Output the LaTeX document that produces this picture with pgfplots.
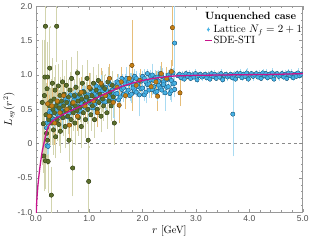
\documentclass[border=0pt]{standalone}
\usepackage{fontspec}
\usepackage{pgfplots}
\usepackage{pgfplotstable}
\pgfplotsset{compat=1.18}
\newfontfamily\tickfont{Liberation Sans}
\definecolor{gfill}{HTML}{5B6E2C}
\definecolor{gedge}{HTML}{3B4A1B}
\definecolor{gerr}{HTML}{D2D4AE}
\definecolor{ofill}{HTML}{C47F16}
\definecolor{oedge}{HTML}{7D5010}
\definecolor{oerr}{HTML}{E6BE7A}
\definecolor{bfill}{HTML}{48B2E4}
\definecolor{bedge}{HTML}{1F6F9F}
\definecolor{berr}{HTML}{A9DBF2}
\definecolor{sde}{HTML}{C8148C}
\definecolor{axgray}{HTML}{999999}

\pgfplotstableread{
x y e
0.12 0.60 0.90
0.14 0.29 0.70
0.15 -0.18 0.50
0.16 0.70 0.80
0.17 0.97 0.55
0.18 1.71 0.60
0.18 -0.25 0.40
0.19 0.42 0.45
0.20 0.15 0.40
0.21 0.80 0.50
0.22 0.97 0.50
0.22 0.05 0.35
0.23 -0.26 0.45
0.24 0.35 0.40
0.25 0.55 0.35
0.26 1.10 0.60
0.27 0.40 0.40
0.28 0.62 0.30
0.29 -0.75 0.40
0.30 0.30 0.30
0.31 0.88 0.35
0.32 0.50 0.30
0.33 0.20 0.35
0.34 0.65 0.30
0.35 0.45 0.25
0.36 0.78 0.35
0.37 0.10 0.30
0.38 0.55 0.25
0.39 1.71 0.50
0.40 0.35 0.30
0.41 0.60 0.25
0.42 0.84 0.30
0.43 0.28 0.30
0.44 0.52 0.25
0.45 0.70 0.25
0.46 0.18 0.30
0.47 0.45 0.25
0.48 0.62 0.25
0.50 0.90 0.30
0.51 0.38 0.25
0.52 0.55 0.20
0.53 0.72 0.25
0.55 0.25 0.30
0.56 0.48 0.25
0.57 0.85 0.35
0.58 0.60 0.22
0.60 0.40 0.25
0.61 0.68 0.25
0.62 0.05 0.30
0.63 0.52 0.20
0.64 0.78 0.25
0.66 0.35 0.30
0.67 0.95 0.30
0.68 0.58 0.22
0.69 -0.355 0.40
0.70 0.45 0.25
0.72 0.70 0.22
0.73 0.30 0.30
0.74 0.55 0.20
0.75 0.82 0.25
0.77 0.48 0.22
0.78 1.03 0.30
0.79 0.62 0.20
0.80 0.38 0.25
0.82 0.72 0.22
0.83 0.53 0.20
0.85 0.25 0.30
0.86 0.65 0.20
0.87 0.88 0.25
0.89 0.45 0.22
0.90 0.75 0.20
0.92 0.58 0.20
0.93 0.35 0.25
0.95 0.68 0.20
0.96 0.95 0.25
0.97 0.50 0.20
0.98 0.05 0.30
0.99 -0.55 0.50
1.00 0.62 0.20
1.02 0.80 0.22
1.03 0.42 0.22
1.05 0.70 0.20
1.06 0.55 0.20
1.08 0.88 0.22
1.10 0.35 0.25
1.11 0.65 0.20
1.13 0.78 0.20
1.15 0.50 0.20
1.17 0.92 0.22
1.18 0.60 0.20
1.20 0.72 0.20
1.22 0.40 0.22
1.24 0.85 0.20
1.25 0.65 0.18
1.27 0.55 0.20
1.29 0.80 0.20
1.31 0.70 0.18
1.33 0.45 0.22
1.35 0.90 0.20
1.37 0.62 0.18
1.39 0.75 0.18
1.41 0.55 0.20
1.43 0.85 0.20
1.45 0.68 0.18
1.47 0.30 0.30
}\greendata

\pgfplotstableread{
x y e
0.22 0.58 0.40
0.25 0.40 0.30
0.30 0.55 0.25
0.35 0.30 0.30
0.40 0.62 0.20
0.45 0.45 0.25
0.52 0.70 0.20
0.58 0.50 0.20
0.63 0.27 0.20
0.70 0.60 0.20
0.78 0.40 0.20
0.85 0.75 0.20
0.92 0.55 0.18
1.00 0.82 0.20
1.08 0.62 0.18
1.15 0.45 0.20
1.22 0.88 0.20
1.30 0.70 0.18
1.38 0.95 0.20
1.45 0.60 0.20
1.52 0.82 0.18
1.56 0.56 0.25
1.60 0.90 0.20
1.68 0.70 0.18
1.75 0.95 0.18
1.80 1.14 0.65
1.88 0.85 0.15
1.95 0.92 0.15
2.16 0.83 0.15
2.28 0.69 0.20
2.25 0.90 0.15
2.35 1.02 0.15
2.45 0.95 0.15
2.54 1.05 0.15
2.56 1.69 0.55
2.70 0.74 0.18
}\orangedata

\pgfplotstableread{
x y e
0.21 -0.03 0.12
0.23 -0.04 0.10
0.20 0.30 0.08
0.20 0.23 0.10
0.23 0.43 0.08
0.23 0.39 0.12
0.26 0.31 0.07
0.26 0.47 0.15
0.29 0.45 0.09
0.29 0.38 0.05
0.32 0.33 0.06
0.32 0.49 0.10
0.35 0.52 0.08
0.35 0.35 0.12
0.38 0.44 0.07
0.38 0.48 0.15
0.41 0.59 0.09
0.41 0.42 0.05
0.44 0.41 0.06
0.44 0.57 0.10
0.47 0.52 0.08
0.47 0.49 0.12
0.50 0.59 0.07
0.50 0.38 0.15
0.53 0.47 0.09
0.53 0.58 0.05
0.56 0.65 0.06
0.56 0.48 0.10
0.59 0.39 0.08
0.59 0.63 0.12
0.62 0.59 0.07
0.62 0.44 0.15
0.65 0.55 0.09
0.65 0.71 0.05
0.68 0.56 0.06
0.68 0.47 0.10
0.71 0.68 0.08
0.71 0.63 0.12
0.74 0.50 0.07
0.74 0.71 0.15
0.77 0.64 0.09
0.77 0.55 0.05
0.80 0.46 0.06
0.80 0.67 0.10
0.83 0.69 0.08
0.83 0.48 0.12
0.86 0.58 0.07
0.86 0.64 0.15
0.89 0.76 0.09
0.89 0.55 0.05
0.92 0.53 0.06
0.92 0.73 0.10
0.95 0.66 0.08
0.95 0.62 0.12
0.98 0.71 0.07
0.98 0.50 0.15
1.01 0.59 0.09
1.01 0.70 0.05
1.04 0.78 0.06
1.04 0.61 0.10
1.07 0.52 0.08
1.07 0.76 0.12
1.10 0.72 0.07
1.10 0.57 0.15
1.13 0.68 0.09
1.13 0.84 0.05
1.16 0.70 0.06
1.16 0.61 0.10
1.19 0.81 0.08
1.19 0.76 0.12
1.22 0.63 0.07
1.22 0.84 0.15
1.25 0.77 0.09
1.25 0.68 0.05
1.28 0.60 0.06
1.28 0.81 0.10
1.31 0.82 0.08
1.31 0.61 0.12
1.34 0.71 0.07
1.34 0.77 0.15
1.37 0.89 0.09
1.37 0.68 0.05
1.40 0.66 0.06
1.40 0.86 0.10
1.43 0.78 0.08
1.43 0.74 0.12
1.46 0.84 0.07
1.46 0.63 0.25
1.49 0.72 0.09
1.49 0.83 0.05
1.52 0.90 0.06
1.52 0.73 0.10
1.55 0.64 0.08
1.55 0.88 0.12
1.58 0.83 0.07
1.58 0.68 0.15
1.61 0.79 0.09
1.61 0.95 0.05
1.64 0.81 0.06
1.64 0.72 0.10
1.67 0.92 0.08
1.67 0.87 0.12
1.70 0.74 0.07
1.70 0.95 0.15
1.73 0.87 0.09
1.73 0.78 0.05
1.76 0.70 0.06
1.76 0.91 0.10
1.79 0.93 0.08
1.79 0.72 0.12
1.82 0.81 0.07
1.82 0.87 0.15
1.85 0.98 0.09
1.85 0.77 0.05
1.88 0.75 0.06
1.88 0.95 0.10
1.91 0.87 0.08
1.91 0.83 0.12
1.94 0.92 0.07
1.94 0.71 0.30
1.97 0.80 0.09
1.97 0.91 0.05
2.00 0.98 0.06
2.00 0.81 0.10
2.03 0.71 0.08
2.03 0.95 0.12
2.06 0.90 0.07
2.06 0.75 0.15
2.09 0.86 0.09
2.09 1.02 0.05
2.12 0.87 0.06
2.12 0.78 0.10
2.15 0.98 0.08
2.15 0.93 0.12
2.18 0.79 0.07
2.18 1.00 0.15
2.21 0.92 0.09
2.21 0.83 0.05
2.24 0.75 0.06
2.24 0.96 0.10
2.27 0.97 0.08
2.27 0.76 0.12
2.30 0.85 0.07
2.30 0.91 0.15
2.33 1.02 0.09
2.33 0.81 0.05
2.36 0.78 0.06
2.36 0.98 0.10
2.39 0.90 0.08
2.39 0.86 0.12
2.42 0.95 0.07
2.42 0.74 0.25
2.45 0.82 0.09
2.45 0.93 0.05
2.48 1.00 0.06
2.48 0.83 0.10
2.51 0.73 0.08
2.51 0.97 0.12
2.54 0.92 0.07
2.54 0.77 0.15
2.57 0.87 0.09
2.57 1.03 0.05
2.60 0.88 0.06
2.60 0.79 0.10
2.60 1.465 0.55
2.66 0.99 0.03
2.69 1.01 0.04
2.72 0.96 0.03
2.75 1.00 0.05
2.78 0.94 0.03
2.81 1.02 0.04
2.84 0.98 0.03
2.87 1.01 0.05
2.90 0.95 0.03
2.93 1.00 0.04
2.96 0.97 0.03
2.99 1.02 0.05
3.02 0.93 0.03
3.05 0.99 0.04
3.08 1.01 0.03
3.11 0.97 0.05
3.14 0.99 0.03
3.17 1.01 0.04
3.20 0.96 0.03
3.23 1.00 0.05
3.26 0.94 0.03
3.29 1.02 0.04
3.32 0.98 0.03
3.35 1.01 0.05
3.38 0.95 0.03
3.41 1.00 0.04
3.44 0.97 0.03
3.47 1.02 0.05
3.50 0.93 0.03
3.53 0.99 0.04
3.56 1.01 0.03
3.59 0.97 0.05
3.62 0.99 0.03
3.65 1.01 0.04
3.68 0.96 0.03
3.69 0.43 0.60
3.71 1.00 0.05
3.74 0.94 0.03
3.77 1.02 0.04
3.80 0.99 0.03
3.83 1.02 0.05
3.86 0.96 0.03
3.89 1.01 0.04
3.92 0.98 0.03
3.95 1.03 0.05
3.98 0.94 0.03
4.01 1.00 0.04
4.04 1.02 0.03
4.07 0.98 0.05
4.10 1.00 0.03
4.13 1.02 0.04
4.16 0.97 0.03
4.19 1.01 0.05
4.22 0.95 0.03
4.25 1.03 0.04
4.28 0.99 0.03
4.31 1.02 0.05
4.34 0.96 0.03
4.37 1.01 0.04
4.40 0.98 0.03
4.43 1.03 0.05
4.46 0.94 0.03
4.49 1.00 0.04
4.52 1.02 0.03
4.55 0.98 0.05
4.58 1.00 0.03
4.61 1.02 0.04
4.64 0.97 0.03
4.67 1.01 0.05
4.70 0.95 0.03
4.73 1.03 0.04
4.76 0.99 0.03
4.79 1.02 0.05
4.82 0.96 0.03
4.85 1.01 0.04
4.88 0.98 0.03
4.91 1.03 0.05
4.94 0.99 0.03
4.97 1.01 0.04
}\bluedata

\begin{document}
\begin{tikzpicture}
\begin{axis}[
  scale only axis,
  width=267pt, height=206pt,
  xmin=0, xmax=5, ymin=-1, ymax=2,
  xtick={0,1,2,3,4,5},
  xticklabels={0.0,1.0,2.0,3.0,4.0,5.0},
  ytick={-1,-0.5,0,0.5,1,1.5,2},
  yticklabels={-1.0,-0.5,0,0.5,1.0,1.5,2.0},
  minor x tick num=4, minor y tick num=4,
  tick align=inside,
  major tick length=3.5pt, minor tick length=2pt,
  axis line style={axgray, line width=0.6pt},
  every tick/.style={axgray, line width=0.5pt},
  ticklabel style={font=\tickfont\fontsize{8.5}{10}\selectfont, text=black!70},
  xlabel={$r$ [GeV]},
  ylabel={$L_{sg}(r^2)$},
  label style={font=\fontsize{10.5}{12}\selectfont},
  xlabel style={yshift=3pt},
  ylabel style={yshift=-4pt},
  legend style={draw=none, fill=none, at={(rel axis cs:0.630,0.915)}, anchor=north west,
    font=\fontsize{10.5}{12}\selectfont, inner sep=0pt, row sep=0pt,
    nodes={inner sep=1pt}},
  legend cell align=left,
  clip=true,
  clip marker paths=true,
]
\addplot[forget plot, axgray!90!black, dashed, line width=0.7pt] coordinates {(0,0) (5,0)};

\addplot[forget plot, only marks, mark=none,
  error bars/.cd, y dir=both, y explicit,
  error bar style={draw=gerr, line width=0.6pt},
  error mark options={draw=gerr, mark size=1pt}]
  table[x=x, y=y, y error=e] {\greendata};
\addplot[forget plot, only marks, mark=none,
  error bars/.cd, y dir=both, y explicit,
  error bar style={draw=oerr, line width=0.6pt},
  error mark options={draw=oerr, mark size=1pt}]
  table[x=x, y=y, y error=e] {\orangedata};
\addplot[forget plot, only marks, mark=none,
  error bars/.cd, y dir=both, y explicit,
  error bar style={draw=berr, line width=0.6pt},
  error mark options={draw=berr, mark size=1pt}]
  table[x=x, y=y, y error=e] {\bluedata};

\addplot[forget plot, only marks, mark=*, mark size=2.1pt,
  mark options={fill=bfill, draw=bedge, line width=0.3pt}]
  table[x=x, y=y] {\bluedata};
\addplot[forget plot, only marks, mark=*, mark size=2.2pt,
  mark options={fill=gfill, draw=gedge, line width=0.3pt}]
  table[x=x, y=y] {\greendata};
\addplot[forget plot, only marks, mark=*, mark size=2.2pt,
  mark options={fill=ofill, draw=oedge, line width=0.3pt}]
  table[x=x, y=y] {\orangedata};

\addlegendimage{legend image code/.code={
  \draw[berr, line width=0.6pt] (3.5pt,-2.5pt) -- (3.5pt,2.5pt);
  \fill[bfill] (3.5pt,0pt) circle (1.3pt);}}
\addlegendentry{Lattice $N_f=2+1$}

\addplot[sde, line width=1.3pt, smooth, legend image code/.code={
  \draw[sde, line width=1.3pt] (0pt,0pt) -- (7pt,0pt);}] coordinates {
(0.005,-1.1) (0.01,-0.95) (0.02,-0.8) (0.04,-0.6) (0.06,-0.45) (0.08,-0.32)
(0.10,-0.21) (0.12,-0.11) (0.15,0.0) (0.18,0.11) (0.21,0.2) (0.25,0.27)
(0.30,0.32) (0.35,0.355) (0.40,0.38) (0.50,0.42) (0.60,0.46) (0.80,0.53)
(1.0,0.61) (1.2,0.69) (1.4,0.76) (1.6,0.83) (1.8,0.88) (2.0,0.92)
(2.2,0.95) (2.4,0.97) (2.6,0.985) (3.0,0.995) (3.5,1.0) (4.0,1.005)
(4.5,1.01) (5.0,1.02)};
\addlegendentry{SDE-STI}

\node[anchor=north west, inner sep=1pt, font=\fontsize{10.5}{12}\selectfont\bfseries]
  at (rel axis cs:0.630,0.975) {Unquenched case};
\end{axis}
\end{tikzpicture}
\end{document}
